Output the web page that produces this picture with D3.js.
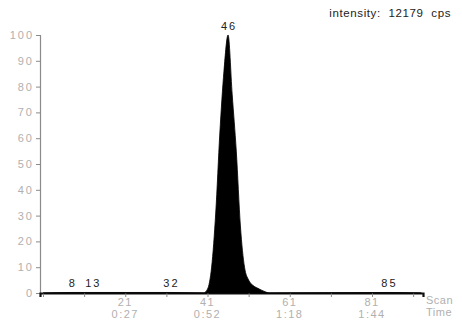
<!DOCTYPE html>
<html>
<head>
<meta charset="utf-8">
<script src="https://cdn.jsdelivr.net/npm/d3@7"></script>
<style>
html,body{margin:0;padding:0;background:#fff;}
svg{display:block;}
text{font-family:"Liberation Sans",Arial,sans-serif;}
</style>
</head>
<body>
<svg id="chart" width="462" height="320"></svg>
<script>
// ---- data ----
const scans     = [1, 8, 13, 32, 40, 41, 42, 43, 44, 45, 46, 47, 48, 49, 50, 51, 52, 53, 54, 55, 56, 85, 93];
const intensity = [0, 0.2, 0.2, 0.2, 0, 1.5, 10, 31, 62, 86, 100, 77, 55, 26, 10, 5, 3, 2, 1.2, 0.5, 0, 0.2, 0];
const peakScans  = [8, 13, 32, 46, 85];
const peakValues = [0.2, 0.2, 0.2, 100, 0.2];
const yTicks = [0, 10, 20, 30, 40, 50, 60, 70, 80, 90, 100];
const xTicks = [1, 11, 21, 31, 41, 51, 61, 71, 81, 91];
const xLabelScans = [21, 41, 61, 81];
const xLabelTimes = ["0:27", "0:52", "1:18", "1:44"];
const title = "intensity: 12179 cps";

// ---- layout ----
const svg = d3.select("#chart");
const x = d3.scaleLinear().domain([0.27, 93.4]).range([40, 423]);
const y = d3.scaleLinear().domain([0, 100]).range([293, 35]);
const axisGrey = "#8a8a8a";
const labelGrey = "#b0b0b0";

// y axis
const yAxis = svg.append("g").attr("transform", "translate(40,0)")
  .call(d3.axisLeft(y).tickValues(yTicks).tickSize(4).tickPadding(2).tickFormat(d3.format("d")));
yAxis.select(".domain").attr("stroke", axisGrey).attr("stroke-width", 1.2);
yAxis.selectAll(".tick line").attr("stroke", axisGrey);
yAxis.selectAll(".tick text").attr("fill", labelGrey).attr("font-size", 11)
  .attr("letter-spacing", 2).attr("font-family", "Liberation Sans, Arial, sans-serif");

// x axis
const xAxis = svg.append("g").attr("transform", "translate(0,293)")
  .call(d3.axisBottom(x).tickValues(xTicks).tickSize(4).tickFormat(""));
xAxis.select(".domain").attr("stroke", "#111").attr("stroke-width", 2.2);
xAxis.selectAll(".tick line").attr("stroke", axisGrey);

// filled trace
const area = d3.area().curve(d3.curveMonotoneX)
  .x((d, i) => x(scans[i])).y0(y(0)).y1(d => y(d));
svg.append("path").datum(intensity).attr("d", area).attr("fill", "#000").attr("stroke", "#000").attr("stroke-width", 0.8);

// x labels (scan / time)
const lab = svg.append("g").attr("fill", labelGrey).attr("font-size", 11).attr("letter-spacing", 1.5).attr("text-anchor", "middle");
xLabelScans.forEach((s, i) => {
  lab.append("text").attr("x", x(s)).attr("y", 306).text(s);
  lab.append("text").attr("x", x(s)).attr("y", 318).text(xLabelTimes[i]);
});
lab.append("text").attr("x", 426).attr("y", 304).attr("text-anchor", "start").attr("letter-spacing", 0.5).text("Scan");
lab.append("text").attr("x", 426).attr("y", 316).attr("text-anchor", "start").attr("letter-spacing", 0.5).text("Time");

// peak labels
svg.append("g").attr("fill", "#222").attr("font-size", 11).attr("letter-spacing", 2).attr("text-anchor", "middle")
  .selectAll("text").data(peakScans).join("text")
  .attr("x", d => x(d) + 1)
  .attr("y", (d, i) => y(peakValues[i]) - 5)
  .text(d => d);

// title
svg.append("text").attr("x", 451).attr("y", 17).attr("text-anchor", "end")
  .attr("font-size", 11.5).attr("fill", "#222").attr("letter-spacing", 0.6).attr("word-spacing", 4).text(title);
</script>
</body>
</html>
